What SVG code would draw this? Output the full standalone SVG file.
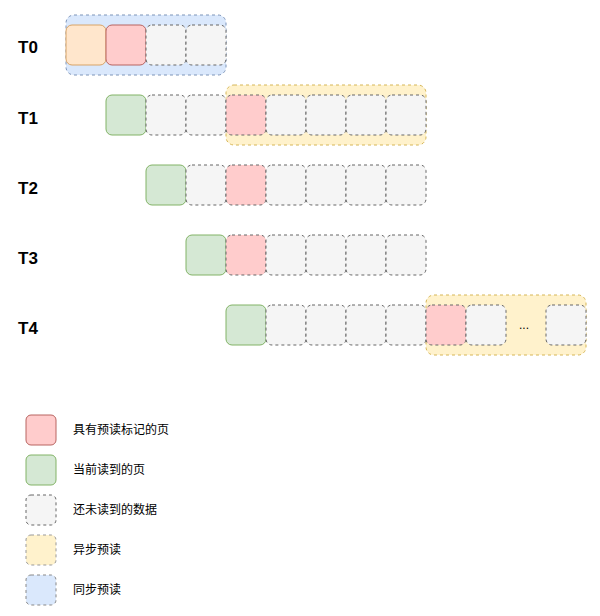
<svg xmlns="http://www.w3.org/2000/svg" width="600" height="616" viewBox="0 0 600 616">
<style>
.bg{fill:#ffffff}
.lbl{font-family:"Liberation Sans",Arial,sans-serif;font-weight:bold;font-size:17px;fill:#000}
.txt{font-family:"Liberation Sans","Noto Sans CJK SC",sans-serif;font-size:12px;fill:#000}
.red{fill:#ffcccc;stroke:#b86460;stroke-width:1}
.redd{fill:#ffcccc;stroke:#666666;stroke-width:1;stroke-dasharray:3 3}
.grn{fill:#d5e8d4;stroke:#82b366;stroke-width:1}
.org{fill:#ffe6cc;stroke:#d9a466;stroke-width:1}
.gry{fill:#f5f5f5;stroke:#666666;stroke-width:1;stroke-dasharray:3 3}
.yel{fill:#fff2cc;stroke:#d6b656;stroke-width:1;stroke-dasharray:3 3}
.blu{fill:#dae8fc;stroke:#7d94b8;stroke-width:1;stroke-dasharray:3 3}
.lgy{fill:#fff2cc;stroke:#999999;stroke-width:1;stroke-dasharray:3 3}
.lgb{fill:#dae8fc;stroke:#888888;stroke-width:1;stroke-dasharray:3 3}
</style>
<rect class="bg" x="0" y="0" width="600" height="616"/>
<g id="groups">
<rect id="sync0" class="blu" x="66" y="15" width="160" height="60" rx="8"/>
<rect id="async1" class="yel" x="226" y="85" width="200" height="60" rx="8"/>
<rect id="async4" class="yel" x="426" y="295" width="160" height="60" rx="8"/>
</g>
<g id="row0">
<text class="lbl" x="18" y="53">T0</text>
<rect class="org" x="66" y="25" width="40" height="40" rx="6"/>
<rect class="red" x="106" y="25" width="40" height="40" rx="6"/>
<rect class="gry" x="146" y="25" width="40" height="40" rx="6"/>
<rect class="gry" x="186" y="25" width="40" height="40" rx="6"/>
</g>
<g id="row1">
<text class="lbl" x="18" y="124">T1</text>
<rect class="grn" x="106" y="95" width="40" height="40" rx="6"/>
<rect class="gry" x="146" y="95" width="40" height="40" rx="6"/>
<rect class="gry" x="186" y="95" width="40" height="40" rx="6"/>
<rect class="redd" x="226" y="95" width="40" height="40" rx="6"/>
<rect class="gry" x="266" y="95" width="40" height="40" rx="6"/>
<rect class="gry" x="306" y="95" width="40" height="40" rx="6"/>
<rect class="gry" x="346" y="95" width="40" height="40" rx="6"/>
<rect class="gry" x="386" y="95" width="40" height="40" rx="6"/>
</g>
<g id="row2">
<text class="lbl" x="18" y="194">T2</text>
<rect class="grn" x="146" y="165" width="40" height="40" rx="6"/>
<rect class="gry" x="186" y="165" width="40" height="40" rx="6"/>
<rect class="redd" x="226" y="165" width="40" height="40" rx="6"/>
<rect class="gry" x="266" y="165" width="40" height="40" rx="6"/>
<rect class="gry" x="306" y="165" width="40" height="40" rx="6"/>
<rect class="gry" x="346" y="165" width="40" height="40" rx="6"/>
<rect class="gry" x="386" y="165" width="40" height="40" rx="6"/>
</g>
<g id="row3">
<text class="lbl" x="18" y="264">T3</text>
<rect class="grn" x="186" y="235" width="40" height="40" rx="6"/>
<rect class="redd" x="226" y="235" width="40" height="40" rx="6"/>
<rect class="gry" x="266" y="235" width="40" height="40" rx="6"/>
<rect class="gry" x="306" y="235" width="40" height="40" rx="6"/>
<rect class="gry" x="346" y="235" width="40" height="40" rx="6"/>
<rect class="gry" x="386" y="235" width="40" height="40" rx="6"/>
</g>
<g id="row4">
<text class="lbl" x="18" y="334">T4</text>
<rect class="grn" x="226" y="305" width="40" height="40" rx="6"/>
<rect class="gry" x="266" y="305" width="40" height="40" rx="6"/>
<rect class="gry" x="306" y="305" width="40" height="40" rx="6"/>
<rect class="gry" x="346" y="305" width="40" height="40" rx="6"/>
<rect class="gry" x="386" y="305" width="40" height="40" rx="6"/>
<rect class="redd" x="426" y="305" width="40" height="40" rx="6"/>
<rect class="gry" x="466" y="305" width="40" height="40" rx="6"/>
<text class="txt" x="524" y="329" text-anchor="middle">...</text>
<rect class="gry" x="546" y="305" width="40" height="40" rx="6"/>
</g>
<g id="legend">
<rect class="red" x="26" y="415" width="30" height="30" rx="5"/>
<text class="txt" x="73" y="434">具有预读标记的页</text>
<rect class="grn" x="26" y="455" width="30" height="30" rx="5"/>
<text class="txt" x="73" y="474">当前读到的页</text>
<rect class="gry" x="26" y="495" width="30" height="30" rx="5"/>
<text class="txt" x="73" y="514">还未读到的数据</text>
<rect class="lgy" x="26" y="535" width="30" height="30" rx="5"/>
<text class="txt" x="73" y="554">异步预读</text>
<rect class="lgb" x="26" y="575" width="30" height="30" rx="5"/>
<text class="txt" x="73" y="594">同步预读</text>
</g>
</svg>
